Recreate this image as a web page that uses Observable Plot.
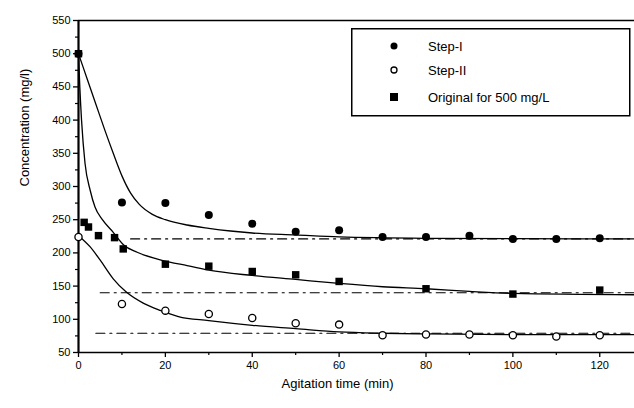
<!DOCTYPE html>
<html><head><meta charset="utf-8">
<script src="https://cdn.jsdelivr.net/npm/d3@7"></script>
<script src="https://cdn.jsdelivr.net/npm/@observablehq/plot@0.6"></script>
<style>
body{margin:0;background:#fff;}
#wrap{position:relative;width:634px;height:408px;font-family:"Liberation Sans",Arial,sans-serif;}
#legend{position:absolute;left:351px;top:28px;}
</style></head><body><div id="wrap"></div>
<script>
// measured points
const stepITime = [0,10,20,30,40,50,60,70,80,90,100,110,120];
const stepIConc = [500,276,275,257,244,232,234,224,224,226,221,221,222];
const stepIITime = [0,10,20,30,40,50,60,70,80,90,100,110,120];
const stepIIConc = [224,123,113,108,102,94,92,76,77,77,76,74,76];
const origTime = [0,1.3,2.3,4.6,8.3,10.3,20,30,40,50,60,80,100,120];
const origConc = [500,246,239,226,223,206,183,180,172,167,157,146,138,144];
// fitted curves
const fitITime = [0,2,4,6,8,10,12,14,17,20,25,30,35,40,50,60,80,100,128];
const fitIConc = [500,462,424,386,350,316,290,273,258,250,242,237,233,230,227,224,222,221.5,221];
const fitOTime = [0,0.3,0.7,1.5,2.7,3.8,5.5,8,10.4,13.5,18,21,25,30,40,50,60,70,80,90,100,128];
const fitOConc = [500,450,400,335,294,269,250,231,212,201,191,186,181,174,166,160,154,149,146,142,139,137];
const fitIITime = [0,2.7,5,8,11,15,19,23,30,40,50,60,70,80,100,128];
const fitIIConc = [226,209,189,161,141,124,113,104,98,91,86,81,79,78,77,77];
// dash-dot equilibrium lines
const eqStart = [12,5,4];
const eqEnd = [128,128,128];
const eqConc = [221,140,79];
// ticks
const xTicks = [0,20,40,60,80,100,120];
const xMinor = [10,30,50,70,90,110];
const yTicks = [50,100,150,200,250,300,350,400,450,500,550];
const yMinor = [75,125,175,225,275,325,375,425,475,525];
const seriesNames = ["Step-I","Step-II","Original for 500 mg/L"];

const zip = (t, v) => t.map((d, i) => ({t: d, v: v[i]}));
const eqData = eqStart.flatMap((s, i) => [{k: i, t: s, v: eqConc[i]}, {k: i, t: eqEnd[i], v: eqConc[i]}]);

const font = '"Liberation Sans", Arial, sans-serif';
const chart = Plot.plot({
  width: 634, height: 408,
  marginLeft: 78, marginRight: 0, marginTop: 20, marginBottom: 56,
  style: {fontFamily: font, fontSize: "11px", background: "white", color: "black"},
  x: {domain: [0, 128]},
  y: {domain: [50, 550]},
  marks: [
    Plot.axisX({ticks: xTicks, tickSize: 5, tickPadding: 4, label: null, fontSize: 11, strokeWidth: 1.3}),
    Plot.axisX({ticks: xMinor, tickSize: 3, text: null, label: null, strokeWidth: 1.2}),
    Plot.axisY({ticks: yTicks, tickSize: 5, tickPadding: 3, label: null, fontSize: 11, strokeWidth: 1.3}),
    Plot.axisY({ticks: yMinor, tickSize: 3, text: null, label: null, strokeWidth: 1.2}),
    Plot.ruleY([550], {strokeWidth: 1.3}),
    Plot.line(eqData, {x: "t", y: "v", z: "k", stroke: "black", strokeWidth: 1.2, strokeDasharray: "9,5,2,5"}),
    Plot.line(zip(fitITime, fitIConc), {x: "t", y: "v", curve: "monotone-x", stroke: "black", strokeWidth: 1.3}),
    Plot.line(zip(fitOTime, fitOConc), {x: "t", y: "v", curve: "monotone-x", stroke: "black", strokeWidth: 1.3}),
    Plot.line(zip(fitIITime, fitIIConc), {x: "t", y: "v", curve: "monotone-x", stroke: "black", strokeWidth: 1.3}),
    Plot.ruleX([0], {strokeWidth: 2.2}),
    Plot.ruleY([50], {strokeWidth: 1.6}),
    Plot.dot(zip(origTime, origConc), {x: "t", y: "v", symbol: "square", r: 4.2, fill: "black", stroke: "none"}),
    Plot.dot(zip(stepITime, stepIConc), {x: "t", y: "v", symbol: "circle", r: 4, fill: "black", stroke: "none"}),
    Plot.dot(zip(stepIITime, stepIIConc), {x: "t", y: "v", symbol: "circle", r: 3.6, fill: "white", stroke: "black", strokeWidth: 1.3}),
    Plot.text(["Concentration (mg/l)"], {frameAnchor: "left", rotate: -90, dx: -54, fontSize: 13}),
    Plot.text(["Agitation time (min)"], {frameAnchor: "bottom", dx: -19, dy: 35, fontSize: 13})
  ]
});
const wrap = document.getElementById("wrap");
wrap.appendChild(chart);

// legend
const lg = d3.create("svg").attr("id", "legend").attr("width", 281).attr("height", 90)
  .style("font-family", font);
lg.append("rect").attr("x", 0.75).attr("y", 0.75).attr("width", 278).attr("height", 87)
  .attr("fill", "white").attr("stroke", "black").attr("stroke-width", 1.5);
const rowsY = [18, 42, 69];
lg.append("circle").attr("cx", 43).attr("cy", rowsY[0]).attr("r", 3.5).attr("fill", "black");
lg.append("circle").attr("cx", 43).attr("cy", rowsY[1]).attr("r", 3).attr("fill", "white").attr("stroke", "black").attr("stroke-width", 1.3);
lg.append("rect").attr("x", 39).attr("y", rowsY[2] - 4).attr("width", 8).attr("height", 8).attr("fill", "black");
seriesNames.forEach((n, i) => {
  lg.append("text").attr("x", 77).attr("y", rowsY[i]).attr("dy", "0.35em")
    .attr("font-size", 13).text(n);
});
wrap.appendChild(lg.node());
</script></body></html>
